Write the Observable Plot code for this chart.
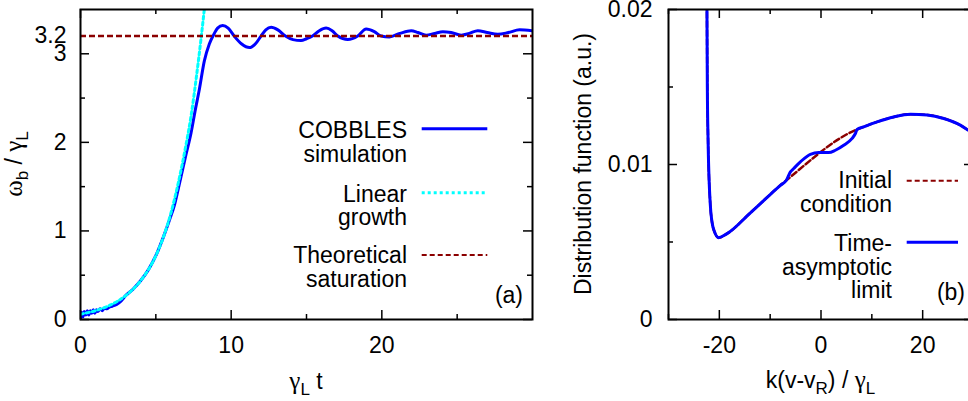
<!DOCTYPE html>
<html><head><meta charset="utf-8">
<script src="https://cdn.jsdelivr.net/npm/d3@7"></script>
<script src="https://cdn.jsdelivr.net/npm/@observablehq/plot@0.6"></script>
<style>
html,body{margin:0;padding:0;overflow:hidden;background:#fff;}
#wrap{position:relative;width:990px;height:401px;}
#wrap > svg{position:absolute;top:0;}
</style></head><body><div id="wrap"></div>
<script>
// ---------- Panel (a) data ----------
const simT = [0,0.08,0.16,0.25,0.35,0.45,0.55,0.65,0.75,0.85,0.95,1.05,1.15,1.3,1.45,1.6,1.75,1.9,2.1,2.4,2.7,3.0,3.5,4.0,4.5,5.0,5.5,5.9,6.23,6.6,7.0,7.34,7.6,7.89,8.22,8.55,8.88,9.1,9.44,9.8,10.2,10.7,11.21,11.6,11.98,12.3,12.65,13.1,13.6,14.1,14.64,15.0,15.4,15.85,16.3,16.7,17.08,17.74,18.4,18.96,19.5,19.95,20.5,21.2,21.95,22.4,22.94,23.5,24.05,24.6,25.27,25.8,26.37,27.0,27.7,28.4,29.14,30];
const simW = [0.01,0.08,0.03,0.09,0.05,0.10,0.05,0.10,0.07,0.11,0.07,0.11,0.09,0.12,0.10,0.13,0.12,0.14,0.15,0.17,0.21,0.27,0.345,0.44,0.56,0.72,0.93,1.12,1.29,1.56,1.86,2.11,2.35,2.60,2.92,3.11,3.23,3.29,3.32,3.29,3.20,3.11,3.07,3.11,3.20,3.27,3.30,3.27,3.20,3.16,3.15,3.17,3.20,3.26,3.29,3.26,3.20,3.16,3.20,3.28,3.25,3.20,3.19,3.23,3.26,3.24,3.21,3.23,3.25,3.24,3.21,3.23,3.26,3.24,3.22,3.24,3.27,3.26];
const linT = [0,1,2,3,4,5,5.5,6,6.5,7,7.34,7.7,8,8.25];
const linW = [0.06,0.10,0.165,0.27,0.44,0.72,0.93,1.20,1.55,1.97,2.30,2.75,3.17,3.55];
const saturation = 3.2;
const aXTicks = [0,10,20], aXMinor = [5,15,25];
const aYTicks = [0,1,2,3], aYMinor = [0.5,1.5,2.5], aYLabels = [0,1,2,3,3.2];

// ---------- Panel (b) data ----------
const limK = [-22.45,-22.36,-22.22,-21.77,-21.44,-20.93,-20.14,-18.48,-14,-10,-7.99,-6.81,-6.02,-5.37,-4.06,-2.09,-0.45,1.52,2.83,4.47,6.12,6.77,7.1,8.4,11.04,14.3,17.6,20.9,24.15,27.4,29.0,30];
const limF = [0.0210,0.0150,0.01168,0.00737,0.00629,0.00564,0.00528,0.00554,0.00685,0.00806,0.00866,0.00898,0.00952,0.00974,0.01017,0.01066,0.01077,0.01077,0.01092,0.01124,0.01168,0.01200,0.01226,0.01243,0.01275,0.01307,0.01325,0.01320,0.01297,0.01254,0.01221,0.01200];
const iniK = [-22.45,-22.36,-22.22,-21.77,-21.44,-20.93,-20.14,-18.48,-14,-10,-7.99,-6.81,6.9,8.4,11.04,14.3,17.6,20.9,24.15,27.4,29.0,30];
const iniF = [0.0210,0.0150,0.01168,0.00737,0.00629,0.00564,0.00528,0.00554,0.00685,0.00806,0.00866,0.00898,0.01224,0.01243,0.01275,0.01307,0.01325,0.01320,0.01297,0.01254,0.01221,0.01200];
const bXTicks = [-20,0,20], bXMinor = [-30,-10,10,30];
const bYTicks = [0,0.01,0.02], bYMinor = [0.005,0.015];

const FONT = '"Liberation Sans", Arial, Helvetica, sans-serif';
const GREEK = '"Liberation Serif", "DejaVu Serif", serif';
const BLUE = "#0000ff", CYAN = "#00ffff", DRED = "#8b0000";

const sim = simT.map((t,i)=>({t, w: simW[i]}));
const lin = linT.map((t,i)=>({t, w: linW[i]}));
const lim = limK.map((k,i)=>({k, f: limF[i]}));
const ini = iniK.map((k,i)=>({k, f: iniF[i]}));

function tickMarks(xMaj, xMin, yMaj, yMin, fw, fh) {
  const L = 9, S = 5, o = {stroke:"black", strokeWidth:1.5};
  return [
    Plot.tickX(xMaj, {x: d=>d, insetTop: fh-L, ...o}),
    Plot.tickX(xMaj, {x: d=>d, insetBottom: fh-L, ...o}),
    Plot.tickX(xMin, {x: d=>d, insetTop: fh-S, ...o}),
    Plot.tickX(xMin, {x: d=>d, insetBottom: fh-S, ...o}),
    Plot.tickY(yMaj, {y: d=>d, insetRight: fw-L, ...o}),
    Plot.tickY(yMaj, {y: d=>d, insetLeft: fw-L, ...o}),
    Plot.tickY(yMin, {y: d=>d, insetRight: fw-S, ...o}),
    Plot.tickY(yMin, {y: d=>d, insetLeft: fw-S, ...o})
  ];
}
const style = {fontFamily: FONT, fontSize: "23px", color: "black", background: "transparent", overflow: "visible"};

// Panel (a)
const A = {w:545, h:401, ml:80, mr:13, mt:9, mb:82};
const left = Plot.plot({
  width: A.w, height: A.h, marginLeft: A.ml, marginRight: A.mr, marginTop: A.mt, marginBottom: A.mb,
  x: {domain: [0, 30], label: null}, y: {domain: [0, 3.5], label: null},
  style,
  marks: [
    Plot.line(sim, {x:"t", y:"w", stroke:BLUE, strokeWidth:3, curve:"monotone-x", clip:true}),
    Plot.line(lin, {x:"t", y:"w", stroke:CYAN, strokeWidth:3, strokeDasharray:"3,3", curve:"monotone-x", clip:true}),
    Plot.ruleY([saturation], {stroke:DRED, strokeWidth:2.5, strokeDasharray:"6,3"}),
    ...tickMarks(aXTicks, aXMinor, aYTicks, aYMinor, A.w-A.ml-A.mr, A.h-A.mt-A.mb),
    Plot.frame({stroke:"black", strokeWidth:2}),
    Plot.axisX({ticks: aXTicks, tickSize:0, tickPadding:17, tickFormat: String, label:null}),
    Plot.axisY({ticks: aYLabels, tickSize:0, tickPadding:14, tickFormat: String, label:null})
  ]
});
left.style.left = "0px";

// Panel (b)
const B = {w:440, h:401, ml:123, mr:12, mt:9, mb:82};
const right = Plot.plot({
  width: B.w, height: B.h, marginLeft: B.ml, marginRight: B.mr, marginTop: B.mt, marginBottom: B.mb,
  x: {domain: [-30, 30], label: null}, y: {domain: [0, 0.02], label: null},
  style,
  marks: [
    Plot.line(ini, {x:"k", y:"f", stroke:DRED, strokeWidth:2.5, strokeDasharray:"6,3", curve:"monotone-x", clip:true}),
    Plot.line(lim, {x:"k", y:"f", stroke:BLUE, strokeWidth:3, curve:"monotone-x", clip:true}),
    ...tickMarks(bXTicks, bXMinor, bYTicks, bYMinor, B.w-B.ml-B.mr, B.h-B.mt-B.mb),
    Plot.frame({stroke:"black", strokeWidth:2}),
    Plot.axisX({ticks: bXTicks, tickSize:0, tickPadding:17, tickFormat: String, label:null}),
    Plot.axisY({ticks: bYTicks, tickSize:0, tickPadding:16, tickFormat: String, label:null})
  ]
});
right.style.left = "545px";

const wrap = document.getElementById("wrap");
wrap.appendChild(left);
wrap.appendChild(right);

// ---------- Overlay: titles and legends ----------
const ov = d3.select(wrap).append("svg")
  .attr("width", 990).attr("height", 401)
  .style("left","0px").style("pointer-events","none")
  .attr("font-family", FONT).attr("font-size", 23).attr("fill", "black");

function rich(sel, parts) {
  // parts: [text, kind] kind: 1 = subscript, "g" = greek
  let shifted = false;
  parts.forEach(([txt, kind]) => {
    const ts = sel.append("tspan").text(txt);
    if (kind === 1) {
      ts.attr("font-size", 17);
      if (!shifted) { ts.attr("dy", 6); shifted = true; }
    } else {
      if (shifted) { ts.attr("dy", -6); shifted = false; }
      if (kind === "g") ts.attr("font-family", GREEK).attr("font-size", 25);
    }
  });
}
// x titles
rich(ov.append("text").attr("x", 306).attr("y", 389).attr("text-anchor","middle"),
  [["γ","g"],["L",1],[" t"]]);
rich(ov.append("text").attr("x", 820.5).attr("y", 388).attr("text-anchor","middle"),
  [["k(v-v"],["R",1],[") / "],["γ","g"],["L",1]]);
// y titles
rich(ov.append("text").attr("transform","translate(22,164) rotate(-90)").attr("text-anchor","middle"),
  [["ω","g"],["b",1],[" / "],["γ","g"],["L",1]]);
ov.append("text").attr("transform","translate(591,164) rotate(-90)").attr("text-anchor","middle")
  .text("Distribution function (a.u.)");

// legends
function entry(xText, baselines, lines, x1, x2, ly, stroke, sw, dash) {
  lines.forEach((s,i)=> ov.append("text").attr("x", xText).attr("y", baselines[i]).attr("text-anchor","end").text(s));
  const l = ov.append("line").attr("x1",x1).attr("x2",x2).attr("y1",ly).attr("y2",ly)
    .attr("stroke",stroke).attr("stroke-width",sw);
  if (dash) l.attr("stroke-dasharray", dash);
}
entry(407, [138.3,161.7], ["COBBLES","simulation"], 421.7, 487.3, 128.7, BLUE, 3, null);
entry(407, [201.5,225], ["Linear","growth"], 421.7, 485, 192.7, CYAN, 3, "3,3");
entry(407, [263.3,286.7], ["Theoretical","saturation"], 421.7, 487.3, 255, DRED, 2, "5,3");
ov.append("text").attr("x", 523).attr("y", 303).attr("text-anchor","end").text("(a)");

entry(892, [188.3,211.7], ["Initial","condition"], 906.7, 958, 180.7, DRED, 2, "5,3");
entry(892, [250.7,274.5,298.3], ["Time-","asymptotic","limit"], 906.7, 958, 242.3, BLUE, 3, null);
ov.append("text").attr("x", 965).attr("y", 300).attr("text-anchor","end").text("(b)");
</script></body></html>
